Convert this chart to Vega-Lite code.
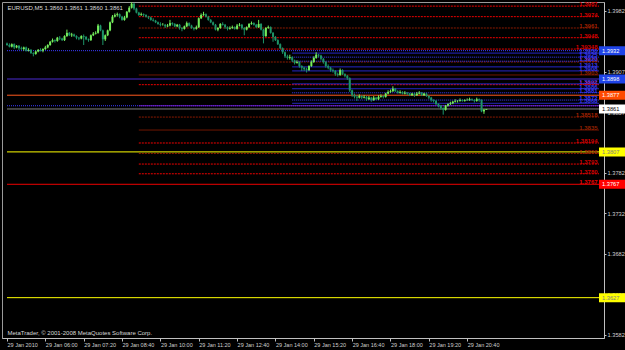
{
  "$schema": "https://vega.github.io/schema/vega-lite/v6.json",
  "autosize": "none",
  "width": 602,
  "height": 336,
  "padding": {"left": 2, "top": 2, "right": 21, "bottom": 12},
  "background": "#000000",
  "config": {
    "view": {"stroke": "#9a9a9a", "strokeWidth": 1},
    "font": "Liberation Sans",
    "axis": {"labelFont": "Liberation Sans"},
    "text": {"font": "Liberation Sans"}
  },
  "datasets": {
    "candles": [
      {"t":280,"o":1.3942,"h":1.3943,"l":1.3939,"c":1.3940},
      {"t":285,"o":1.3940,"h":1.3942,"l":1.3937,"c":1.3938},
      {"t":290,"o":1.3938,"h":1.3942,"l":1.3937,"c":1.3941},
      {"t":295,"o":1.3941,"h":1.3942,"l":1.3935,"c":1.3937},
      {"t":300,"o":1.3937,"h":1.3940,"l":1.3936,"c":1.3939},
      {"t":305,"o":1.3939,"h":1.3940,"l":1.3934,"c":1.3936},
      {"t":310,"o":1.3936,"h":1.3938,"l":1.3934,"c":1.3935},
      {"t":315,"o":1.3935,"h":1.3938,"l":1.3933,"c":1.3937},
      {"t":320,"o":1.3937,"h":1.3938,"l":1.3932,"c":1.3933},
      {"t":325,"o":1.3933,"h":1.3936,"l":1.3932,"c":1.3934},
      {"t":330,"o":1.3934,"h":1.3935,"l":1.3929,"c":1.3930},
      {"t":335,"o":1.3930,"h":1.3931,"l":1.3926,"c":1.3929},
      {"t":340,"o":1.3929,"h":1.3933,"l":1.3928,"c":1.3932},
      {"t":345,"o":1.3932,"h":1.3935,"l":1.3931,"c":1.3934},
      {"t":350,"o":1.3934,"h":1.3936,"l":1.3932,"c":1.3933},
      {"t":355,"o":1.3933,"h":1.3936,"l":1.3931,"c":1.3935},
      {"t":360,"o":1.3935,"h":1.3939,"l":1.3934,"c":1.3937},
      {"t":365,"o":1.3937,"h":1.3941,"l":1.3936,"c":1.3940},
      {"t":370,"o":1.3940,"h":1.3945,"l":1.3939,"c":1.3944},
      {"t":375,"o":1.3944,"h":1.3948,"l":1.3943,"c":1.3946},
      {"t":380,"o":1.3946,"h":1.3947,"l":1.3943,"c":1.3945},
      {"t":385,"o":1.3945,"h":1.3950,"l":1.3944,"c":1.3949},
      {"t":390,"o":1.3949,"h":1.3951,"l":1.3946,"c":1.3948},
      {"t":395,"o":1.3948,"h":1.3949,"l":1.3945,"c":1.3946},
      {"t":400,"o":1.3946,"h":1.3952,"l":1.3945,"c":1.3951},
      {"t":405,"o":1.3951,"h":1.3959,"l":1.3950,"c":1.3955},
      {"t":410,"o":1.3955,"h":1.3956,"l":1.3951,"c":1.3952},
      {"t":415,"o":1.3952,"h":1.3955,"l":1.3950,"c":1.3953},
      {"t":420,"o":1.3953,"h":1.3954,"l":1.3950,"c":1.3951},
      {"t":425,"o":1.3951,"h":1.3952,"l":1.3947,"c":1.3949},
      {"t":430,"o":1.3949,"h":1.3950,"l":1.3946,"c":1.3948},
      {"t":435,"o":1.3948,"h":1.3952,"l":1.3947,"c":1.3951},
      {"t":440,"o":1.3951,"h":1.3953,"l":1.3940,"c":1.3950},
      {"t":445,"o":1.3950,"h":1.3951,"l":1.3946,"c":1.3947},
      {"t":450,"o":1.3947,"h":1.3948,"l":1.3944,"c":1.3946},
      {"t":455,"o":1.3946,"h":1.3953,"l":1.3945,"c":1.3952},
      {"t":460,"o":1.3952,"h":1.3956,"l":1.3951,"c":1.3954},
      {"t":465,"o":1.3954,"h":1.3957,"l":1.3953,"c":1.3955},
      {"t":470,"o":1.3955,"h":1.3966,"l":1.3954,"c":1.3964},
      {"t":475,"o":1.3964,"h":1.3965,"l":1.3957,"c":1.3958},
      {"t":480,"o":1.3958,"h":1.3959,"l":1.3940,"c":1.3947},
      {"t":485,"o":1.3947,"h":1.3953,"l":1.3945,"c":1.3952},
      {"t":490,"o":1.3952,"h":1.3959,"l":1.3951,"c":1.3958},
      {"t":495,"o":1.3958,"h":1.3969,"l":1.3957,"c":1.3968},
      {"t":500,"o":1.3968,"h":1.3977,"l":1.3967,"c":1.3975},
      {"t":505,"o":1.3975,"h":1.3979,"l":1.3974,"c":1.3977},
      {"t":510,"o":1.3977,"h":1.3980,"l":1.3975,"c":1.3978},
      {"t":515,"o":1.3978,"h":1.3979,"l":1.3973,"c":1.3975},
      {"t":520,"o":1.3975,"h":1.3976,"l":1.3970,"c":1.3971},
      {"t":525,"o":1.3971,"h":1.3976,"l":1.3970,"c":1.3974},
      {"t":530,"o":1.3974,"h":1.3982,"l":1.3973,"c":1.3981},
      {"t":535,"o":1.3981,"h":1.3988,"l":1.3980,"c":1.3986},
      {"t":540,"o":1.3986,"h":1.3993,"l":1.3985,"c":1.3991},
      {"t":545,"o":1.3991,"h":1.3992,"l":1.3983,"c":1.3985},
      {"t":550,"o":1.3985,"h":1.3986,"l":1.3979,"c":1.3980},
      {"t":555,"o":1.3980,"h":1.3981,"l":1.3976,"c":1.3977},
      {"t":560,"o":1.3977,"h":1.3980,"l":1.3976,"c":1.3978},
      {"t":565,"o":1.3978,"h":1.3979,"l":1.3975,"c":1.3977},
      {"t":570,"o":1.3977,"h":1.3978,"l":1.3974,"c":1.3975},
      {"t":575,"o":1.3975,"h":1.3976,"l":1.3972,"c":1.3974},
      {"t":580,"o":1.3974,"h":1.3975,"l":1.3970,"c":1.3971},
      {"t":585,"o":1.3971,"h":1.3973,"l":1.3969,"c":1.3970},
      {"t":590,"o":1.3970,"h":1.3971,"l":1.3967,"c":1.3968},
      {"t":595,"o":1.3968,"h":1.3969,"l":1.3965,"c":1.3966},
      {"t":600,"o":1.3966,"h":1.3968,"l":1.3963,"c":1.3965},
      {"t":605,"o":1.3965,"h":1.3967,"l":1.3964,"c":1.3965},
      {"t":610,"o":1.3965,"h":1.3966,"l":1.3961,"c":1.3963},
      {"t":615,"o":1.3963,"h":1.3966,"l":1.3962,"c":1.3964},
      {"t":620,"o":1.3964,"h":1.3971,"l":1.3963,"c":1.3967},
      {"t":625,"o":1.3967,"h":1.3968,"l":1.3964,"c":1.3966},
      {"t":630,"o":1.3966,"h":1.3967,"l":1.3962,"c":1.3963},
      {"t":635,"o":1.3963,"h":1.3966,"l":1.3962,"c":1.3965},
      {"t":640,"o":1.3965,"h":1.3966,"l":1.3959,"c":1.3961},
      {"t":645,"o":1.3961,"h":1.3962,"l":1.3957,"c":1.3960},
      {"t":650,"o":1.3960,"h":1.3964,"l":1.3959,"c":1.3963},
      {"t":655,"o":1.3963,"h":1.3969,"l":1.3962,"c":1.3967},
      {"t":660,"o":1.3967,"h":1.3968,"l":1.3963,"c":1.3964},
      {"t":665,"o":1.3964,"h":1.3965,"l":1.3960,"c":1.3961},
      {"t":670,"o":1.3961,"h":1.3962,"l":1.3958,"c":1.3960},
      {"t":675,"o":1.3960,"h":1.3964,"l":1.3959,"c":1.3962},
      {"t":680,"o":1.3962,"h":1.3974,"l":1.3961,"c":1.3973},
      {"t":685,"o":1.3973,"h":1.3979,"l":1.3972,"c":1.3977},
      {"t":690,"o":1.3977,"h":1.3981,"l":1.3976,"c":1.3978},
      {"t":695,"o":1.3978,"h":1.3979,"l":1.3974,"c":1.3975},
      {"t":700,"o":1.3975,"h":1.3976,"l":1.3970,"c":1.3971},
      {"t":705,"o":1.3971,"h":1.3972,"l":1.3967,"c":1.3968},
      {"t":710,"o":1.3968,"h":1.3969,"l":1.3964,"c":1.3965},
      {"t":715,"o":1.3965,"h":1.3966,"l":1.3958,"c":1.3959},
      {"t":720,"o":1.3959,"h":1.3962,"l":1.3957,"c":1.3961},
      {"t":725,"o":1.3961,"h":1.3967,"l":1.3960,"c":1.3966},
      {"t":730,"o":1.3966,"h":1.3968,"l":1.3964,"c":1.3965},
      {"t":735,"o":1.3965,"h":1.3966,"l":1.3960,"c":1.3962},
      {"t":740,"o":1.3962,"h":1.3963,"l":1.3958,"c":1.3960},
      {"t":745,"o":1.3960,"h":1.3963,"l":1.3959,"c":1.3961},
      {"t":750,"o":1.3961,"h":1.3964,"l":1.3960,"c":1.3962},
      {"t":755,"o":1.3962,"h":1.3963,"l":1.3959,"c":1.3960},
      {"t":760,"o":1.3960,"h":1.3966,"l":1.3959,"c":1.3964},
      {"t":765,"o":1.3964,"h":1.3967,"l":1.3963,"c":1.3965},
      {"t":770,"o":1.3965,"h":1.3966,"l":1.3959,"c":1.3961},
      {"t":775,"o":1.3961,"h":1.3962,"l":1.3952,"c":1.3959},
      {"t":780,"o":1.3959,"h":1.3963,"l":1.3958,"c":1.3962},
      {"t":785,"o":1.3962,"h":1.3967,"l":1.3961,"c":1.3966},
      {"t":790,"o":1.3966,"h":1.3969,"l":1.3965,"c":1.3967},
      {"t":795,"o":1.3967,"h":1.3968,"l":1.3964,"c":1.3965},
      {"t":800,"o":1.3965,"h":1.3966,"l":1.3961,"c":1.3962},
      {"t":805,"o":1.3962,"h":1.3971,"l":1.3961,"c":1.3966},
      {"t":810,"o":1.3966,"h":1.3967,"l":1.3958,"c":1.3959},
      {"t":815,"o":1.3959,"h":1.3960,"l":1.3942,"c":1.3951},
      {"t":820,"o":1.3951,"h":1.3962,"l":1.3950,"c":1.3961},
      {"t":825,"o":1.3961,"h":1.3964,"l":1.3960,"c":1.3962},
      {"t":830,"o":1.3962,"h":1.3963,"l":1.3954,"c":1.3955},
      {"t":835,"o":1.3955,"h":1.3956,"l":1.3944,"c":1.3950},
      {"t":840,"o":1.3950,"h":1.3951,"l":1.3945,"c":1.3946},
      {"t":845,"o":1.3946,"h":1.3947,"l":1.3940,"c":1.3941},
      {"t":850,"o":1.3941,"h":1.3942,"l":1.3935,"c":1.3936},
      {"t":855,"o":1.3936,"h":1.3937,"l":1.3929,"c":1.3931},
      {"t":860,"o":1.3931,"h":1.3932,"l":1.3924,"c":1.3926},
      {"t":865,"o":1.3926,"h":1.3928,"l":1.3922,"c":1.3924},
      {"t":870,"o":1.3924,"h":1.3928,"l":1.3922,"c":1.3925},
      {"t":875,"o":1.3925,"h":1.3926,"l":1.3919,"c":1.3921},
      {"t":880,"o":1.3921,"h":1.3922,"l":1.3916,"c":1.3918},
      {"t":885,"o":1.3918,"h":1.3921,"l":1.3917,"c":1.3919},
      {"t":890,"o":1.3919,"h":1.3920,"l":1.3912,"c":1.3914},
      {"t":895,"o":1.3914,"h":1.3915,"l":1.3908,"c":1.3912},
      {"t":900,"o":1.3912,"h":1.3913,"l":1.3908,"c":1.3910},
      {"t":905,"o":1.3910,"h":1.3912,"l":1.3906,"c":1.3909},
      {"t":910,"o":1.3909,"h":1.3915,"l":1.3908,"c":1.3914},
      {"t":915,"o":1.3914,"h":1.3921,"l":1.3913,"c":1.3919},
      {"t":920,"o":1.3919,"h":1.3926,"l":1.3918,"c":1.3924},
      {"t":925,"o":1.3924,"h":1.3931,"l":1.3923,"c":1.3928},
      {"t":930,"o":1.3928,"h":1.3929,"l":1.3925,"c":1.3927},
      {"t":935,"o":1.3927,"h":1.3928,"l":1.3921,"c":1.3923},
      {"t":940,"o":1.3923,"h":1.3924,"l":1.3917,"c":1.3919},
      {"t":945,"o":1.3919,"h":1.3920,"l":1.3912,"c":1.3914},
      {"t":950,"o":1.3914,"h":1.3916,"l":1.3910,"c":1.3912},
      {"t":955,"o":1.3912,"h":1.3913,"l":1.3907,"c":1.3909},
      {"t":960,"o":1.3909,"h":1.3911,"l":1.3906,"c":1.3908},
      {"t":965,"o":1.3908,"h":1.3909,"l":1.3902,"c":1.3904},
      {"t":970,"o":1.3904,"h":1.3906,"l":1.3901,"c":1.3903},
      {"t":975,"o":1.3903,"h":1.3911,"l":1.3902,"c":1.3909},
      {"t":980,"o":1.3909,"h":1.3910,"l":1.3903,"c":1.3904},
      {"t":985,"o":1.3904,"h":1.3905,"l":1.3900,"c":1.3902},
      {"t":990,"o":1.3902,"h":1.3903,"l":1.3897,"c":1.3899},
      {"t":995,"o":1.3899,"h":1.3900,"l":1.3882,"c":1.3884},
      {"t":1000,"o":1.3884,"h":1.3885,"l":1.3876,"c":1.3878},
      {"t":1005,"o":1.3878,"h":1.3880,"l":1.3874,"c":1.3876},
      {"t":1010,"o":1.3876,"h":1.3878,"l":1.3871,"c":1.3875},
      {"t":1015,"o":1.3875,"h":1.3879,"l":1.3874,"c":1.3877},
      {"t":1020,"o":1.3877,"h":1.3878,"l":1.3873,"c":1.3875},
      {"t":1025,"o":1.3875,"h":1.3878,"l":1.3874,"c":1.3876},
      {"t":1030,"o":1.3876,"h":1.3877,"l":1.3871,"c":1.3873},
      {"t":1035,"o":1.3873,"h":1.3877,"l":1.3872,"c":1.3875},
      {"t":1040,"o":1.3875,"h":1.3876,"l":1.3870,"c":1.3872},
      {"t":1045,"o":1.3872,"h":1.3877,"l":1.3871,"c":1.3875},
      {"t":1050,"o":1.3875,"h":1.3876,"l":1.3872,"c":1.3873},
      {"t":1055,"o":1.3873,"h":1.3878,"l":1.3872,"c":1.3876},
      {"t":1060,"o":1.3876,"h":1.3879,"l":1.3875,"c":1.3877},
      {"t":1065,"o":1.3877,"h":1.3878,"l":1.3874,"c":1.3876},
      {"t":1070,"o":1.3876,"h":1.3881,"l":1.3875,"c":1.3880},
      {"t":1075,"o":1.3880,"h":1.3884,"l":1.3879,"c":1.3882},
      {"t":1080,"o":1.3882,"h":1.3885,"l":1.3881,"c":1.3883},
      {"t":1085,"o":1.3883,"h":1.3889,"l":1.3882,"c":1.3886},
      {"t":1090,"o":1.3886,"h":1.3887,"l":1.3882,"c":1.3883},
      {"t":1095,"o":1.3883,"h":1.3884,"l":1.3880,"c":1.3881},
      {"t":1100,"o":1.3881,"h":1.3884,"l":1.3880,"c":1.3882},
      {"t":1105,"o":1.3882,"h":1.3883,"l":1.3879,"c":1.3880},
      {"t":1110,"o":1.3880,"h":1.3883,"l":1.3879,"c":1.3881},
      {"t":1115,"o":1.3881,"h":1.3882,"l":1.3878,"c":1.3880},
      {"t":1120,"o":1.3880,"h":1.3881,"l":1.3877,"c":1.3878},
      {"t":1125,"o":1.3878,"h":1.3881,"l":1.3877,"c":1.3880},
      {"t":1130,"o":1.3880,"h":1.3881,"l":1.3876,"c":1.3878},
      {"t":1135,"o":1.3878,"h":1.3882,"l":1.3877,"c":1.3880},
      {"t":1140,"o":1.3880,"h":1.3883,"l":1.3879,"c":1.3881},
      {"t":1145,"o":1.3881,"h":1.3882,"l":1.3877,"c":1.3878},
      {"t":1150,"o":1.3878,"h":1.3881,"l":1.3877,"c":1.3880},
      {"t":1155,"o":1.3880,"h":1.3881,"l":1.3876,"c":1.3877},
      {"t":1160,"o":1.3877,"h":1.3878,"l":1.3873,"c":1.3875},
      {"t":1165,"o":1.3875,"h":1.3876,"l":1.3870,"c":1.3872},
      {"t":1170,"o":1.3872,"h":1.3873,"l":1.3869,"c":1.3871},
      {"t":1175,"o":1.3871,"h":1.3872,"l":1.3866,"c":1.3867},
      {"t":1180,"o":1.3867,"h":1.3868,"l":1.3863,"c":1.3865},
      {"t":1185,"o":1.3865,"h":1.3866,"l":1.3860,"c":1.3862},
      {"t":1190,"o":1.3862,"h":1.3863,"l":1.3854,"c":1.3860},
      {"t":1195,"o":1.3860,"h":1.3866,"l":1.3859,"c":1.3865},
      {"t":1200,"o":1.3865,"h":1.3868,"l":1.3864,"c":1.3867},
      {"t":1205,"o":1.3867,"h":1.3870,"l":1.3866,"c":1.3868},
      {"t":1210,"o":1.3868,"h":1.3871,"l":1.3867,"c":1.3870},
      {"t":1215,"o":1.3870,"h":1.3873,"l":1.3869,"c":1.3871},
      {"t":1220,"o":1.3871,"h":1.3872,"l":1.3869,"c":1.3871},
      {"t":1225,"o":1.3871,"h":1.3874,"l":1.3870,"c":1.3872},
      {"t":1230,"o":1.3872,"h":1.3873,"l":1.3870,"c":1.3871},
      {"t":1235,"o":1.3871,"h":1.3873,"l":1.3870,"c":1.3872},
      {"t":1240,"o":1.3872,"h":1.3874,"l":1.3871,"c":1.3872},
      {"t":1245,"o":1.3872,"h":1.3875,"l":1.3871,"c":1.3873},
      {"t":1250,"o":1.3873,"h":1.3874,"l":1.3871,"c":1.3872},
      {"t":1255,"o":1.3872,"h":1.3873,"l":1.3869,"c":1.3871},
      {"t":1260,"o":1.3871,"h":1.3875,"l":1.3870,"c":1.3873},
      {"t":1265,"o":1.3873,"h":1.3874,"l":1.3870,"c":1.3872},
      {"t":1270,"o":1.3872,"h":1.3873,"l":1.3857,"c":1.3858},
      {"t":1275,"o":1.3858,"h":1.3861,"l":1.3855,"c":1.3860},
      {"t":1280,"o":1.3860,"h":1.3861,"l":1.3860,"c":1.3861}
    ],
    "levels": [
      {"p":1.3933,"f":280,"k":"bd"},
      {"p":1.3898,"f":280,"k":"bw"},
      {"p":1.3878,"f":280,"k":"o"},
      {"p":1.3865,"f":280,"k":"bd"},
      {"p":1.3865,"f":555,"k":"p"},
      {"p":1.3861,"f":280,"k":"g"},
      {"p":1.3808,"f":280,"k":"y"},
      {"p":1.3806,"f":555,"k":"r2","lab":"1.3806"},
      {"p":1.3768,"f":280,"k":"rf","lab":"1.3767"},
      {"p":1.3628,"f":280,"k":"y"},
      {"p":1.3988,"f":555,"k":"r1","lab":"1.3987"},
      {"p":1.3975,"f":555,"k":"r1","lab":"1.3974"},
      {"p":1.3961,"f":555,"k":"r2","lab":"1.3961"},
      {"p":1.3949,"f":555,"k":"r1","lab":"1.3948"},
      {"p":1.3935,"f":555,"k":"r1","lab":"1.39348"},
      {"p":1.3919,"f":555,"k":"r2","lab":"1.3919"},
      {"p":1.3903,"f":555,"k":"r2w","lab":"1.3903"},
      {"p":1.3891,"f":555,"k":"r1","lab":"1.3891"},
      {"p":1.3851,"f":555,"k":"r2","lab":"1.38518"},
      {"p":1.3835,"f":555,"k":"r2w","lab":"1.3835"},
      {"p":1.3819,"f":555,"k":"r1","lab":"1.38194"},
      {"p":1.3793,"f":555,"k":"r1","lab":"1.3793"},
      {"p":1.3781,"f":555,"k":"r1","lab":"1.3780"},
      {"p":1.3930,"f":875,"k":"b","lab":"1.3930"},
      {"p":1.3925,"f":875,"k":"bd","lab":"1.3925"},
      {"p":1.3920,"f":875,"k":"bd","lab":"1.3920"},
      {"p":1.3913,"f":875,"k":"b","lab":"1.3913"},
      {"p":1.3908,"f":875,"k":"b","lab":"1.3908"},
      {"p":1.3892,"f":875,"k":"b","lab":"1.3892"},
      {"p":1.3886,"f":875,"k":"b","lab":"1.3886"},
      {"p":1.3881,"f":875,"k":"bd","lab":"1.3881"},
      {"p":1.3872,"f":875,"k":"bd","lab":"1.3872"},
      {"p":1.3868,"f":875,"k":"b","lab":"1.3868"}
    ],
    "boxes": [
      {"p":1.3933,"lab":"1.3932","bk":"b"},
      {"p":1.3898,"lab":"1.3898","bk":"b"},
      {"p":1.3878,"lab":"1.3877","bk":"o"},
      {"p":1.3861,"lab":"1.3861","bk":"w"},
      {"p":1.3808,"lab":"1.3807","bk":"y"},
      {"p":1.3768,"lab":"1.3767","bk":"r"},
      {"p":1.3628,"lab":"1.3627","bk":"y"}
    ],
    "one": [{}]
  },
  "resolve": {"scale": {"color": "independent", "strokeDash": "independent", "strokeWidth": "independent"}},
  "layer": [
    {
      "data": {"name": "levels"},
      "mark": {"type": "rule", "clip": true},
      "encoding": {
        "x": {"field": "f", "type": "quantitative",
          "scale": {"domain": [280, 1515], "nice": false, "zero": false},
          "axis": {
            "orient": "bottom", "title": null,
            "values": [280, 360, 440, 520, 600, 680, 760, 840, 920, 1000, 1080, 1160, 1240],
            "labelExpr": "datum.value == 280 ? '29 Jan 2010' : '29 Jan ' + (floor(datum.value/60) < 10 ? '0' : '') + floor(datum.value/60) + ':' + (datum.value % 60 < 10 ? '0' : '') + (datum.value % 60)",
            "labelAlign": "left", "labelBaseline": "top", "labelPadding": 1, "labelDx": 1,
            "labelColor": "#d0d0d0", "labelFontSize": 5.5, "labelOverlap": false, "labelFlush": false,
            "domainColor": "#c0c0c0", "tickColor": "#c0c0c0", "tickSize": 3, "grid": false
          }
        },
        "x2": {"datum": 1515},
        "y": {"field": "p", "type": "quantitative",
          "scale": {"domain": [1.35782, 1.39931], "nice": false, "zero": false},
          "axis": {
            "orient": "right", "title": null,
            "values": [1.3582, 1.3607, 1.3632, 1.3657, 1.3682, 1.3707, 1.3732, 1.3757, 1.3782, 1.3832, 1.3857, 1.3882, 1.3907, 1.3957, 1.3982],
            "format": ".4f", "labelColor": "#d0d0d0", "labelFontSize": 5.7, "labelPadding": 1,
            "labelOverlap": false, "labelFlush": false,
            "domainColor": "#c0c0c0", "tickColor": "#c0c0c0", "tickSize": 2, "grid": false
          }
        },
        "color": {"field": "k", "type": "nominal", "legend": null,
          "scale": {"domain": ["r1","r2","r2w","rf","y","o","b","bd","bw","g","p"],
                    "range": ["#f00000","#8c1a00","#7a1a00","#ee0000","#ffff00","#ff5a1e","#2b2bd8","#3b3bff","#4a2ad0","#808080","#7a1fd0"]}},
        "strokeWidth": {"field": "k", "type": "nominal", "legend": null,
          "scale": {"domain": ["r1","r2","r2w","rf","y","o","b","bd","bw","g","p"],
                    "range": [1,1,2,2,2,1,1,1,2,1,1]}},
        "strokeDash": {"field": "k", "type": "nominal", "legend": null,
          "scale": {"domain": ["r1","r2","r2w","rf","y","o","b","bd","bw","g","p"],
                    "range": [[2,1],[2,1],[1,0],[1,0],[1,0],[1,0],[1,0],[1,1],[1,0],[1,0],[1,0]]}}
      }
    },
    {
      "data": {"name": "levels"},
      "transform": [{"filter": "isValid(datum.lab)"}],
      "mark": {"type": "text", "align": "right", "baseline": "bottom", "dy": 1, "fontSize": 6, "fontWeight": "bold"},
      "encoding": {
        "x": {"datum": 1512},
        "y": {"field": "p", "type": "quantitative"},
        "text": {"field": "lab"},
        "color": {"field": "k", "type": "nominal", "legend": null,
          "scale": {"domain": ["r1","r2","r2w","rf","y","o","b","bd","bw","g","p"],
                    "range": ["#d00000","#a02000","#902000","#ee0000","#ffff00","#ff5a1e","#3a3ae8","#3b3bff","#4a2ad0","#808080","#7a1fd0"]}}
      }
    },
    {
      "data": {"name": "candles"},
      "mark": {"type": "rule", "clip": true, "strokeWidth": 1},
      "encoding": {
        "x": {"field": "t", "type": "quantitative"},
        "y": {"field": "l", "type": "quantitative"},
        "y2": {"field": "h"},
        "color": {"condition": {"test": "datum.c >= datum.o", "value": "#74ee5c"}, "value": "#1d9468"}
      }
    },
    {
      "data": {"name": "candles"},
      "mark": {"type": "bar", "width": 2, "clip": true},
      "encoding": {
        "x": {"field": "t", "type": "quantitative"},
        "y": {"field": "o", "type": "quantitative"},
        "y2": {"field": "c"},
        "color": {"condition": {"test": "datum.c >= datum.o", "value": "#74ee5c"}, "value": "#1d9468"}
      }
    },
    {
      "data": {"name": "boxes"},
      "mark": {"type": "point", "shape": "M0,-0.6L4.8,-0.6L4.8,0.6L0,0.6Z", "filled": true, "size": 225, "opacity": 1, "strokeWidth": 0, "clip": false},
      "encoding": {
        "x": {"datum": 1515},
        "y": {"field": "p", "type": "quantitative"},
        "color": {"field": "bk", "type": "nominal", "legend": null,
          "scale": {"domain": ["b","o","w","y","r"], "range": ["#1f44e8","#ff4a00","#ffffff","#ffff00","#ff0000"]}}
      }
    },
    {
      "data": {"name": "boxes"},
      "mark": {"type": "text", "align": "left", "baseline": "middle", "dx": 3, "fontSize": 5.7, "clip": false},
      "encoding": {
        "x": {"datum": 1515},
        "y": {"field": "p", "type": "quantitative"},
        "text": {"field": "lab"},
        "color": {"field": "bk", "type": "nominal", "legend": null,
          "scale": {"domain": ["b","o","w","y","r"], "range": ["#ffffff","#ffffff","#000000","#808080","#ffffff"]}}
      }
    },
    {
      "data": {"name": "one"},
      "mark": {"type": "text", "align": "left", "baseline": "middle", "fontSize": 6, "color": "#d8d8d8"},
      "encoding": {
        "x": {"datum": 281},
        "y": {"datum": 1.3986},
        "text": {"value": "EURUSD,M5  1.3860 1.3861 1.3860 1.3861"}
      }
    },
    {
      "data": {"name": "one"},
      "mark": {"type": "text", "align": "left", "baseline": "middle", "fontSize": 6, "color": "#d8d8d8"},
      "encoding": {
        "x": {"datum": 281},
        "y": {"datum": 1.3584},
        "text": {"value": "MetaTrader, © 2001-2008 MetaQuotes Software Corp."}
      }
    }
  ]
}
